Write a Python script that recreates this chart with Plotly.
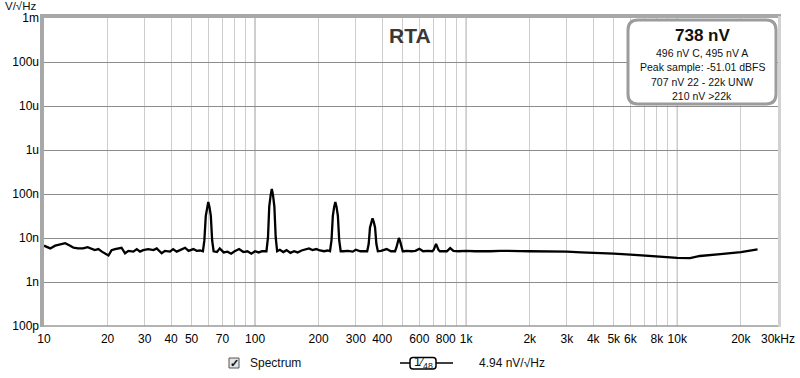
import math
import plotly.graph_objects as go

# ---------------- data ----------------
freq_hz = [10, 10.7, 11.3, 11.9, 12.6, 13.3, 13.8, 14.5, 15.3, 16.1, 17.4, 18.1, 18.8, 20.2,
           20.9, 21.7, 22.5, 23.3, 24.2, 25.1, 26.5, 27.5, 28.5, 29.5, 31.2, 33.0, 34.2, 36.1,
           37.4, 39.5, 40.9, 42.5, 44.1, 46.6, 48.4, 51.0, 52.9, 54.9,
           56.6, 57.5, 58.4, 59.2, 60, 60.8, 61.7, 62.6, 63.6,
           66, 68, 71, 74, 77, 80, 84, 88, 92, 96, 100, 104, 108, 112,
           113.2, 115.1, 116.7, 118.5, 120, 121.6, 123.4, 125.2, 127.2,
           131, 136, 141, 147, 153, 159, 166, 173, 180, 187, 195, 203, 212, 221,
           226.4, 230.1, 233.5, 236.9, 240, 243.1, 246.7, 250.3, 254.4,
           262, 275, 290, 300, 315, 325, 333,
           339.6, 345.2, 350.2, 355.4, 360, 364.7, 370.1, 375.5, 381.6,
           395, 420, 440,
           452.8, 460.2, 466.9, 473.8, 480, 486.2, 493.4, 500.6, 508.8,
           520, 550, 575, 600, 625, 660,
           679.2, 690.3, 700.4, 710.8, 720, 729.4, 740.2, 751, 763.2,
           780, 810, 840, 870, 920, 1000, 1100, 1200, 1300, 1450, 1600, 1800, 2000,
           2300, 2600, 3000, 3500, 4300, 5000, 6000, 7000, 8300, 10000, 11500, 12800,
           16000, 20000, 24000]

level_nv = [6.7, 5.8, 6.7, 7.2, 7.6, 6.7, 6.0, 5.8, 5.8, 6.2, 5.3, 5.6, 4.9, 4.0,
            5.3, 5.6, 5.8, 6.0, 4.5, 5.1, 4.9, 5.6, 4.9, 5.3, 5.6, 5.3, 5.8, 4.5,
            5.1, 4.9, 5.6, 4.9, 5.3, 6.0, 5.1, 5.6, 5.1, 5.2,
            5.0, 8.8, 32, 51, 66, 51, 32, 8.8, 5.0,
            4.8, 5.8, 4.7, 4.9, 4.4, 5.0, 5.6, 4.8, 5.0, 4.4, 5.0, 4.7, 5.0, 5.1,
            5.0, 10.3, 52, 94, 130, 94, 52, 10.3, 5.0,
            5.4, 4.8, 5.3, 4.6, 5.0, 4.7, 5.2, 5.5, 5.8, 5.3, 5.6, 5.2, 5.0, 5.2,
            5.0, 8.8, 32, 51, 66, 51, 32, 8.8, 5.0,
            5.0, 5.1, 4.9, 5.4, 5.0, 5.1, 5.0,
            5.0, 7.3, 17.3, 23.4, 28, 23.4, 17.3, 7.3, 5.0,
            5.1, 5.6, 5.0,
            5.0, 5.0, 6.0, 8.5, 10, 8.5, 6.0, 5.0, 5.0,
            5.1, 5.0, 5.1, 5.7, 5.0, 5.1,
            5.0, 5.0, 5.3, 6.3, 7.3, 6.3, 5.3, 5.0, 5.0,
            5.1, 5.0, 5.9, 5.1, 5.0, 5.1, 5.0, 5.1, 5.0, 5.1, 5.0, 5.05, 5.0,
            5.0, 5.0, 4.9, 4.7, 4.6, 4.4, 4.2, 4.0, 3.7, 3.55, 3.5, 3.9,
            4.3, 4.8, 5.5]

x_tick_vals = [10, 20, 30, 40, 50, 70, 100, 200, 300, 400, 600, 800, 1000, 2000, 3000,
               4000, 5000, 6000, 8000, 10000, 20000, 30000]
x_tick_text = ["10", "20", "30", "40", "50", "70", "100", "200", "300", "400", "600", "800",
               "1k", "2k", "3k", "4k", "5k", "6k", "8k", "10k", "20k", "30kHz"]
y_tick_vals = [1e-3, 1e-4, 1e-5, 1e-6, 1e-7, 1e-8, 1e-9, 1e-10]
y_tick_text = ["1m", "100u", "10u", "1u", "100n", "10n", "1n", "100p"]

decade_lines = [100, 1000, 10000]
minor_grid = [m * d for d in [10, 100, 1000, 10000] for m in range(1, 10) if m * d <= 30000]

info_lines = ["496 nV C, 495 nV A", "Peak sample: -51.01 dBFS", "707 nV 22 - 22k UNW", "210 nV >22k"]

# ---------------- geometry helpers (pixel -> paper) ----------------
W, H = 800, 378
L, R, T, B = 44, 22, 18, 52
PW, PH = W - L - R, H - T - B


def px(x):
    return (x - L) / PW


def py(y):
    return (H - B - y) / PH


FONT = "Liberation Sans, Arial, sans-serif"

fig = go.Figure()
fig.add_trace(go.Scatter(
    x=freq_hz, y=[v * 1e-9 for v in level_nv], mode="lines",
    line=dict(color="black", width=2.3), hoverinfo="skip", showlegend=False))

shapes = []
for d in decade_lines:
    shapes.append(dict(type="line", xref="x", yref="paper", x0=d, x1=d, y0=0, y1=1,
                       line=dict(color="#8c8c8c", width=1), layer="below"))

# frame (bevel look)
shapes += [
    dict(type="line", xref="paper", yref="paper", x0=px(42), x1=px(42), y0=py(327), y1=py(15),
         line=dict(color="#a8a8a8", width=4), layer="above"),
    dict(type="line", xref="paper", yref="paper", x0=px(40), x1=px(781), y0=py(16), y1=py(16),
         line=dict(color="#a8a8a8", width=4), layer="above"),
    dict(type="line", xref="paper", yref="paper", x0=px(779.5), x1=px(779.5), y0=py(327), y1=py(16),
         line=dict(color="#d2d2d2", width=3), layer="above"),
    dict(type="line", xref="paper", yref="paper", x0=px(44), x1=px(778), y0=py(326), y1=py(326),
         line=dict(color="#9a9a9a", width=1.5), layer="above"),
]

# info box (rounded rect)
bx0, bx1, by0, by1, r = 628, 776, 20, 104, 10
path = (f"M {px(bx0 + r)} {py(by0)} L {px(bx1 - r)} {py(by0)} "
        f"Q {px(bx1)} {py(by0)} {px(bx1)} {py(by0 + r)} L {px(bx1)} {py(by1 - r)} "
        f"Q {px(bx1)} {py(by1)} {px(bx1 - r)} {py(by1)} L {px(bx0 + r)} {py(by1)} "
        f"Q {px(bx0)} {py(by1)} {px(bx0)} {py(by1 - r)} L {px(bx0)} {py(by0 + r)} "
        f"Q {px(bx0)} {py(by0)} {px(bx0 + r)} {py(by0)} Z")
shapes.append(dict(type="path", xref="paper", yref="paper", path=path,
                   fillcolor="white", line=dict(color="#9c9c9c", width=3), layer="above"))

# legend decorations
shapes.append(dict(type="rect", xref="paper", yref="paper", x0=px(229), x1=px(239), y0=py(368), y1=py(358),
                   fillcolor="#e4e4e4", line=dict(color="#555555", width=1), layer="above"))
shapes.append(dict(type="line", xref="paper", yref="paper", x0=px(400), x1=px(453), y0=py(363), y1=py(363),
                   line=dict(color="black", width=1.5), layer="above"))
bb0, bb1, bt0, bt1, br = 410, 436, 357.5, 369, 3
bpath = (f"M {px(bb0 + br)} {py(bt0)} L {px(bb1 - br)} {py(bt0)} "
         f"Q {px(bb1)} {py(bt0)} {px(bb1)} {py(bt0 + br)} L {px(bb1)} {py(bt1 - br)} "
         f"Q {px(bb1)} {py(bt1)} {px(bb1 - br)} {py(bt1)} L {px(bb0 + br)} {py(bt1)} "
         f"Q {px(bb0)} {py(bt1)} {px(bb0)} {py(bt1 - br)} L {px(bb0)} {py(bt0 + br)} "
         f"Q {px(bb0)} {py(bt0)} {px(bb0 + br)} {py(bt0)} Z")
shapes.append(dict(type="path", xref="paper", yref="paper", path=bpath,
                   fillcolor="white", line=dict(color="black", width=1.5), layer="above"))

annotations = []


def ann(text, x, y, size=12, xanchor="center", bold=False, color="#111", **kw):
    if bold:
        text = f"<b>{text}</b>"
    annotations.append(dict(text=text, x=px(x), y=py(y), xref="paper", yref="paper",
                            xanchor=xanchor, yanchor="middle", showarrow=False,
                            font=dict(family=FONT, size=size, color=color), **kw))


ann("RTA", 410, 35, size=21, bold=True, color="#383838")
ann("V/√Hz", 20, 6, size=11.5)
ann("738 nV", 702, 36, size=17, bold=True)
for i, t in enumerate(info_lines):
    ann(t, 702, 53 + 14.3 * i, size=10.5)
ann("✓", 234, 362.5, size=11, bold=True)
ann("Spectrum", 248, 363, size=12, xanchor="left")
ann("1⁄<sub>48</sub>", 423, 362.5, size=12.5)
ann("4.94 nV/√Hz", 477, 363, size=12, xanchor="left")

fig.update_layout(
    width=W, height=H, margin=dict(l=L, r=R, t=T, b=B, autoexpand=False),
    paper_bgcolor="white", plot_bgcolor="white",
    font=dict(family=FONT, size=12, color="#111"),
    shapes=shapes, annotations=annotations, showlegend=False,
    xaxis=dict(type="log", range=[1, math.log10(30000)], tickmode="array",
               tickvals=x_tick_vals, ticktext=x_tick_text, showgrid=False,
               ticks="", zeroline=False, showline=False, ticklabelstandoff=4,
               minor=dict(tickmode="array", tickvals=minor_grid, showgrid=True,
                          gridcolor="#cdcdcd", gridwidth=1, ticks=""),
               tickfont=dict(size=12, color="black")),
    yaxis=dict(type="log", range=[-10, -3], tickmode="array", tickvals=y_tick_vals,
               ticktext=y_tick_text, showgrid=True, gridcolor="#8c8c8c", gridwidth=1,
               ticks="", zeroline=False, showline=False, ticklabelstandoff=4,
               tickfont=dict(size=12, color="black")),
)

fig.write_html("out.html", config={"displayModeBar": False},
               post_script="document.body.style.margin='0';")
